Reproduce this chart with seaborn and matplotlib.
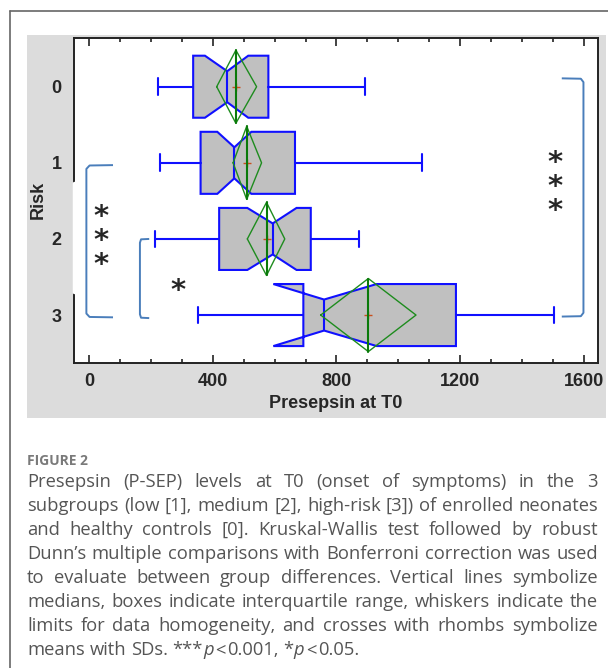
import numpy as np
import matplotlib
matplotlib.use("Agg")
import matplotlib.pyplot as plt
import matplotlib.transforms as mtransforms
from matplotlib.patches import Rectangle
from matplotlib.lines import Line2D
import seaborn as sns

# data (Presepsin at T0, by risk group)
risk_levels = [0, 1, 2, 3]
risk_labels = ["0", "1", "2", "3"]
q1 = [337, 361, 421, 693]
median = [447, 470, 594, 760]
q3 = [580, 666, 717, 1186]
whisker_low = [224, 229, 213, 353]
whisker_high = [892, 1075, 874, 1503]
notch_low = [375, 415, 512, 596]
notch_high = [515, 525, 671, 930]
mean = [475, 510, 574, 903]
sd_low = [413, 466, 512, 749]
sd_high = [542, 558, 633, 1057]

x_ticks = [0, 400, 800, 1200, 1600]

caption_title = "FIGURE 2"
caption_lines = [
    "Presepsin (P-SEP) levels at T0 (onset of symptoms) in the 3",
    "subgroups (low [1], medium [2], high-risk [3]) of enrolled neonates",
    "and healthy controls [0]. Kruskal-Wallis test followed by robust",
    "Dunn\u2019s multiple comparisons with Bonferroni correction was used",
    "to evaluate between group differences. Vertical lines symbolize",
    "medians, boxes indicate interquartile range, whiskers indicate the",
    "limits for data homogeneity, and crosses with rhombs symbolize",
]

W, H = 608, 668
BOX_BLUE = "#1010ff"
GREEN = "#1e8c1e"
BRACKET = "#4a7ebb"

sns.set_style("ticks")
plt.rcParams["font.family"] = ["Liberation Sans", "DejaVu Sans"]

fig = plt.figure(figsize=(W / 100, H / 100), dpi=100)
fig.patch.set_facecolor("white")

# frame + grey panel behind the chart
fig.add_artist(Rectangle((27 / W, 1 - 418 / H), (606 - 27) / W, (418 - 35) / H,
                         transform=fig.transFigure, facecolor="#dcdcdc",
                         edgecolor="none", zorder=-2))
fig.add_artist(Line2D([9.5 / W, 9.5 / W], [1 - 11 / H, 0], transform=fig.transFigure,
                      color="#666666", lw=1.2))
fig.add_artist(Line2D([9.5 / W, 1], [1 - 11 / H, 1 - 11 / H], transform=fig.transFigure,
                      color="#666666", lw=1.2))

ax = fig.add_axes([74 / W, 1 - 363 / H, (598 - 74) / W, (363 - 37.7) / H])
ax.set_facecolor("white")

stats = []
for i in range(len(risk_levels)):
    stats.append(dict(med=median[i], q1=q1[i], q3=q3[i],
                      whislo=whisker_low[i], whishi=whisker_high[i],
                      cilo=notch_low[i], cihi=notch_high[i],
                      fliers=[], label=risk_labels[i]))

line_kw = dict(color=BOX_BLUE, linewidth=1.5)
ax.bxp(stats, positions=risk_levels, widths=0.815, capwidths=0.22,
       orientation="horizontal", shownotches=True, patch_artist=True,
       showfliers=False,
       boxprops=dict(facecolor="#c0c0c0", edgecolor=BOX_BLUE, linewidth=1.5),
       whiskerprops=line_kw, capprops=line_kw, medianprops=line_kw)

# mean crosses (seaborn) and SD rhombs
sns.scatterplot(x=mean, y=risk_levels, marker="+", color="#c8501e", s=30,
                linewidth=1.0, zorder=4, legend=False, ax=ax)
dh = 0.48
for y, m, lo, hi in zip(risk_levels, mean, sd_low, sd_high):
    ax.plot([lo, m, hi, m, lo], [y, y - dh, y, y + dh, y], color=GREEN, lw=1.0, zorder=5)
    ax.plot([m, m], [y - dh, y + dh], color="#0a7a0a", lw=1.5, zorder=5)

ax.set_xlim(-48, 1645)
ax.set_ylim(3.63, -0.644)
ax.set_xticks(x_ticks)
ax.set_xticks(np.arange(0, 1601, 100), minor=True)
ax.set_yticks(risk_levels)
ax.set_yticklabels(risk_labels)
ax.tick_params(axis="x", which="both", direction="in", top=True, bottom=True,
               color="#222222", width=1.2, labelsize=13, pad=7)
ax.tick_params(axis="x", which="major", length=6)
ax.tick_params(axis="x", which="minor", length=3)
ax.tick_params(axis="y", which="both", length=0, labelsize=13, pad=9)
for lab in ax.get_xticklabels() + ax.get_yticklabels():
    lab.set_fontweight("bold")
for sp in ax.spines.values():
    sp.set_color("#222222")
    sp.set_linewidth(1.4)

ax.set_xlabel("Presepsin at T0", fontsize=13, fontweight="bold", labelpad=4)
ax.set_ylabel("Risk", fontsize=13, fontweight="bold", labelpad=3)

# a piece of the left spine is hidden in the original
ax.plot([-48, -48], [1.265, 2.70], color="white", lw=2.5, zorder=10, clip_on=False)


def bracket(x_v, x_arm, y_top, y_bot):
    dx = (x_arm - x_v) * 0.12
    xs = [x_arm, x_v + dx, x_v, x_v, x_v + dx, x_arm]
    ys = [y_top, y_top + 0.005, y_top + 0.05, y_bot - 0.05, y_bot - 0.005, y_bot]
    ax.plot(xs, ys, color=BRACKET, lw=1.4, zorder=3, solid_capstyle="butt")


bracket(-8, 78, 1.03, 3.03)
bracket(165, 195, 2.0, 3.04)
bracket(1598, 1528, -0.11, 3.02)

star_fs = 21
star_trans = ax.transData + mtransforms.ScaledTranslation(0, -0.55 * star_fs / 72,
                                                          fig.dpi_scale_trans)


def stars(x, y_bottom, n):
    # stacked asterisks, y_bottom is the centre of the lowest one
    ax.text(x, y_bottom, "\n".join(["*"] * n), fontsize=star_fs, fontweight="bold",
            family="DejaVu Sans", ha="center", va="baseline", linespacing=0.82,
            transform=star_trans, zorder=6)


stars(39, 2.24, 3)
stars(1506, 1.53, 3)
stars(287, 2.58, 1)

# caption, justified
cap_font = ["Open Sans", "DejaVu Sans"]
cap_color = "#555555"
x_left, x_right = 27, 598
fig.text(x_left / W, 1 - 465 / H, caption_title, fontsize=10, fontweight="bold",
         color="#7a7a7a", family=cap_font, va="baseline", ha="left")

fig.canvas.draw()
renderer = fig.canvas.get_renderer()


def run_width(s, fs, style="normal"):
    t = fig.text(0, 0, s, fontsize=fs, family=cap_font, style=style)
    w = t.get_window_extent(renderer).width
    t.remove()
    return w


# pick the size so the widest line just fits with normal spacing
fs0 = 11.0
widest = max(run_width(line, fs0) for line in caption_lines)
cap_fs = fs0 * (x_right - x_left - 4) / widest

space_w = run_width("a a", cap_fs) - 2 * run_width("a", cap_fs)
base0 = 487
line_gap = 24
for k, line in enumerate(caption_lines):
    words = line.split(" ")
    widths = [run_width(wd, cap_fs) for wd in words]
    gap = (x_right - x_left - sum(widths)) / (len(words) - 1)
    x = x_left
    yb = 1 - (base0 + k * line_gap) / H
    for wd, wdt in zip(words, widths):
        fig.text(x / W, yb, wd, fontsize=cap_fs, family=cap_font, color=cap_color,
                 va="baseline", ha="left")
        x += wdt + gap

# last line, left aligned, with italic p
runs = [("means", "normal", 1), ("with", "normal", 1), ("SDs.", "normal", 1),
        ("***", "normal", 0), ("p", "italic", 0.35), ("<", "normal", 0.35),
        ("0.001,", "normal", 1), ("*", "normal", 0), ("p", "italic", 0.35),
        ("<", "normal", 0.35), ("0.05.", "normal", 0)]
x = x_left
yb = 1 - (base0 + len(caption_lines) * line_gap) / H
for s, st, after in runs:
    fig.text(x / W, yb, s, fontsize=cap_fs, family=cap_font, color=cap_color,
             style=st, va="baseline", ha="left")
    x += run_width(s, cap_fs, st) + after * space_w

fig.savefig("out.png", dpi=100)
